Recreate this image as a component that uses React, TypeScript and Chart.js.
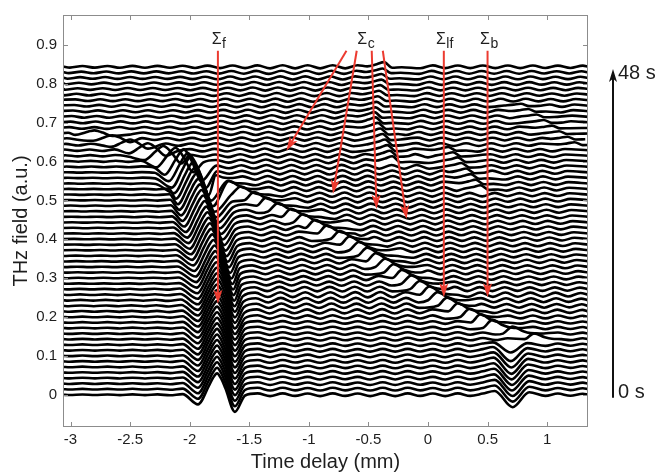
import React, { useEffect, useRef } from "react";
import { Chart, registerables } from "chart.js";

Chart.register(...registerables);

// ---------- axes ----------
const xTicks = [-3, -2.5, -2, -1.5, -1, -0.5, 0, 0.5, 1];
const yTicks = [0, 0.1, 0.2, 0.3, 0.4, 0.5, 0.6, 0.7, 0.8, 0.9];
const xRange = [-3.063, 1.343];
const yRange = [-0.083, 0.977];

// ---------- traces (one per second) ----------
const TRACE_COUNT = 60;
const TRACE_STEP = 0.0143;

// sample positions of the background ripple (extrema), mm
const gridX = [
  -3.063, -3.005, -2.9, -2.795, -2.69, -2.585, -2.48, -2.375, -2.27, -2.165, -2.06,
  -1.955, -1.85, -1.745, -1.64, -1.535, -1.43, -1.325, -1.22, -1.115, -1.01,
  -0.905, -0.8, -0.695, -0.59, -0.485, -0.38, -0.275, -0.17, -0.065, 0.04,
  0.145, 0.25, 0.355, 0.46, 0.565, 0.67, 0.775, 0.88, 0.985, 1.09, 1.195, 1.3, 1.343,
];
// ripple of the lowest traces
const rippleLow = [
  0, -0.0008, 0.0008, -0.0008, 0.0008, -0.001, 0.001, -0.001, 0.001, -0.0015, 0.0015,
  -0.0015, 0.0015, -0.0015, 0.002, -0.002, 0.0035, -0.0035, 0.0035, -0.003, 0.003,
  -0.0035, 0.0035, -0.003, 0.003, -0.0035, 0.0035, -0.0035, 0.0035, -0.003, 0.003,
  -0.0035, 0.0035, -0.003, 0.003, -0.0025, 0.0025, -0.003, 0.003, -0.003, 0.003, -0.0025, 0.0025, 0,
];
// ripple of the middle traces
const rippleMid = [
  0, -0.0005, 0.0005, -0.0005, 0.0005, -0.0006, 0.0006, -0.0008, 0.0008, -0.001, 0.0012,
  -0.0015, 0.002, -0.0025, 0.003, -0.0035, 0.004, -0.0045, 0.005, -0.005, 0.005,
  -0.005, 0.005, -0.0055, 0.0055, -0.0055, 0.0055, -0.005, 0.005, -0.005, 0.005,
  -0.005, 0.005, -0.0045, 0.0045, -0.0045, 0.0045, -0.004, 0.004, -0.004, 0.004, -0.0035, 0.0035, 0,
];
// ripple of the upper traces
const rippleHigh = [
  0.001, -0.002, 0.002, -0.0022, 0.0022, -0.0025, 0.0025, -0.0025, 0.0025, -0.0025, 0.0028,
  -0.003, 0.003, -0.0033, 0.0035, -0.0035, 0.0038, -0.004, 0.004, -0.004, 0.004,
  -0.004, 0.004, -0.004, 0.004, -0.004, 0.004, -0.0038, 0.0038, -0.0038, 0.0038,
  -0.0035, 0.0035, -0.0035, 0.0035, -0.0035, 0.0035, -0.0035, 0.0035, -0.003, 0.003, -0.003, 0.003, 0,
];
const gainLow = [
  1, 1, 1, 1, 1, 1, 1, 1, 1, 1, 1, 1, 1, 1, 1, 1, 0.8, 0.6, 0.4, 0.2,
  0, 0, 0, 0, 0, 0, 0, 0, 0, 0, 0, 0, 0, 0, 0, 0, 0, 0, 0, 0,
  0, 0, 0, 0, 0, 0, 0, 0, 0, 0, 0, 0, 0, 0, 0, 0, 0, 0, 0, 0,
];
const gainMid = [
  0, 0, 0, 0, 0, 0, 0, 0, 0, 0, 0, 0, 0, 0, 0.2, 0.4, 0.6, 0.8, 1, 1,
  1, 1, 1, 1, 1, 1, 1, 1, 1, 1, 1, 1, 1, 1, 1, 1, 1, 1, 1, 1,
  1, 0.8, 0.6, 0.4, 0.2, 0, 0, 0, 0, 0, 0, 0, 0, 0, 0, 0, 0, 0, 0, 0,
];
const gainHigh = [
  0, 0, 0, 0, 0, 0, 0, 0, 0, 0, 0, 0, 0, 0, 0, 0, 0, 0, 0, 0,
  0, 0, 0, 0, 0, 0, 0, 0, 0, 0, 0, 0, 0, 0, 0, 0, 0, 0, 0, 0,
  0, 0.2, 0.4, 0.6, 0.8, 1, 1, 1, 1, 1, 1, 1, 1, 1, 1, 1, 1, 1, 1, 1,
];
// drift of the ripple crests from trace to trace, mm
const ripplePhase = [
  0, 0, 0, 0, 0, 0, 0, 0, 0, 0, 0, 0, 0, 0, 0,
  -0.005, -0.01, -0.015, -0.02, -0.025, -0.03, -0.035, -0.04, -0.045, -0.05,
  -0.055, -0.06, -0.065, -0.07, -0.075, -0.08, -0.085, -0.09, -0.095, -0.1,
  -0.105, -0.11, -0.115, -0.12, -0.125, -0.13, -0.135, -0.14, -0.145, -0.15,
  -0.14, -0.13, -0.12, -0.11, -0.1, -0.09, -0.08, -0.07, -0.06, -0.05, -0.04, -0.03, -0.02, -0.01, 0,
];

// Σf : forward pulse (traces 0..47)
const fFirst = 0;
const fX = [
  -1.77, -1.77, -1.77, -1.77, -1.77, -1.77, -1.77, -1.77, -1.77, -1.77,
  -1.77, -1.77, -1.77, -1.77, -1.77, -1.77, -1.77, -1.77, -1.77,
  -1.772, -1.775, -1.78, -1.785, -1.79, -1.8, -1.81, -1.82, -1.83, -1.84, -1.85,
  -1.86, -1.873, -1.886, -1.9, -1.913, -1.927, -1.94, -1.955, -1.97, -1.99,
  -2.015, -2.05, -2.12, -2.22, -2.35, -2.5, -2.65, -2.8,
];
const fAmp = [
  0.055, 0.055, 0.055, 0.055, 0.055, 0.055, 0.055, 0.055, 0.055, 0.055,
  0.055, 0.055, 0.055, 0.055, 0.055, 0.055, 0.055, 0.055, 0.055,
  0.055, 0.055, 0.055, 0.055, 0.055, 0.055, 0.055, 0.055, 0.055, 0.055, 0.055,
  0.055, 0.055, 0.055, 0.055, 0.055, 0.055, 0.055, 0.055, 0.055, 0.055,
  0.05, 0.045, 0.035, 0.025, 0.018, 0.013, 0.01, 0.008,
];
const fDx = [-0.16, -0.07, -0.035, 0, 0.035, 0.07, 0.15];
const fDy = [-0.45, 0.4, 0.78, 1, 0.75, 0.3, -0.8];

// Σb : back reflection (traces 0..9)
const bFirst = 0;
const bX = [0.71, 0.71, 0.71, 0.705, 0.705, 0.7, 0.7, 0.7, 0.695, 0.695];
const bAmp = [0.032, 0.032, 0.032, 0.032, 0.032, 0.032, 0.032, 0.03, 0.028, 0.02];
const bDx = [-0.15, 0, 0.14];
const bDy = [0.3, -1, 0.2];

// Σlf : long diagonal streak (traces 9..39), ramp-shaped feature
const lfFirst = 9;
const lfX = [
  1.2, 0.98, 0.8, 0.63, 0.53, 0.44, 0.34, 0.25, 0.17, 0.1, 0.02, -0.05, -0.13, -0.2,
  -0.27, -0.35, -0.42, -0.49, -0.57, -0.65, -0.76, -0.86, -0.96, -1.06, -1.17, -1.27,
  -1.37, -1.48, -1.58, -1.68, -1.78,
];
const lfAmp = [
  0, 0.005, 0.006, 0.007, 0.007, 0.007, 0.007, 0.007, 0.007, 0.007, 0.007, 0.007, 0.007, 0.007,
  0.007, 0.007, 0.007, 0.007, 0.007, 0.007, 0.007, 0.007, 0.007, 0.007, 0.007, 0.007,
  0.007, 0.007, 0.007, 0.007, 0.007,
];
const rampDx = [-0.17, -0.09, 0, 0.06, 0.14];
const rampDy = [0, 3.0, 1, 0.2, 0];

// bump used by the weaker streaks
const sDx = [-0.14, -0.06, 0, 0.07, 0.15];
const sDy = [0.1, 0.55, 1, -0.2, -0.1];

// Σc : steep streak (traces 42..59)
const cFirst = 42;
const cX = [
  -0.3, -0.32, -0.34, -0.36, -0.38, -0.4, -0.42, -0.44, -0.45, -0.44, -0.43, -0.42,
  -0.41, -0.4, -0.39, -0.39, -0.38, -0.37,
];
const cAmp = [
  0.013, 0.013, 0.013, 0.013, 0.013, 0.013, 0.013, 0.013, 0.012, 0.01, 0.01, 0.01,
  0.01, 0.01, 0.01, 0.01, 0.01, 0.012,
];

// upper-middle streak (traces 37..44)
const dFirst = 37;
const dX = [0.44, 0.4, 0.36, 0.32, 0.28, 0.25, 0.21, 0.17];
const dAmp = [0.01, 0.01, 0.01, 0.01, 0.01, 0.01, 0.009, 0.008];

// upper-right streak (traces 45..52)
const eFirst = 45;
const eX = [1.23, 1.17, 1.1, 1.04, 0.97, 0.91, 0.84, 0.78];
const eAmp = [0.006, 0.006, 0.006, 0.006, 0.006, 0.006, 0.006, 0.005];

// ---------- annotations ----------
const arrowX0 = [-1.763, -0.684, -0.598, -0.472, -0.379, 0.133, 0.5];
const arrowY0 = [0.885, 0.885, 0.885, 0.885, 0.885, 0.885, 0.885];
const arrowX1 = [-1.763, -1.188, -0.797, -0.432, -0.18, 0.133, 0.5];
const arrowY1 = [0.234, 0.628, 0.517, 0.478, 0.452, 0.251, 0.251];
const labelSub = ["f", "c", "lf", "b"];
const labelX = [-1.774, -0.552, 0.108, 0.478];
const labelY = 0.903;
const timeLabels = ["0 s", "48 s"];

type Pt = { x: number; y: number };
type Feature = { center: number; amp: number; dx: number[]; dy: number[] };

function featuresFor(i: number): Feature[] {
  const list: Feature[] = [];
  const add = (first: number, xs: number[], amps: number[], dx: number[], dy: number[]) => {
    const k = i - first;
    if (k >= 0 && k < xs.length && amps[k] > 0) list.push({ center: xs[k], amp: amps[k], dx, dy });
  };
  add(fFirst, fX, fAmp, fDx, fDy);
  add(bFirst, bX, bAmp, bDx, bDy);
  add(lfFirst, lfX, lfAmp, rampDx, rampDy);
  add(cFirst, cX, cAmp, sDx, sDy);
  add(dFirst, dX, dAmp, sDx, sDy);
  add(eFirst, eX, eAmp, sDx, sDy);
  return list;
}

function traceData(i: number): Pt[] {
  const level = i * TRACE_STEP;
  const pts: Pt[] = [];
  const spans: number[][] = [];
  for (const f of featuresFor(i)) {
    const lo = f.center + f.dx[0];
    const hi = f.center + f.dx[f.dx.length - 1];
    for (let j = 0; j < f.dx.length; j++) {
      const px = f.center + f.dx[j];
      if (spans.some((w) => px > w[0] - 0.06 && px < w[1] + 0.06)) continue;
      pts.push({ x: px, y: level + f.amp * f.dy[j] });
    }
    spans.push([lo, hi]);
  }
  const core = pts.map((p) => p.x);
  for (let j = 0; j < gridX.length; j++) {
    const interior = j > 0 && j < gridX.length - 1;
    const gx = gridX[j] + (interior ? ripplePhase[i] : 0);
    if (spans.some((w) => gx >= w[0] && gx <= w[1])) continue;
    if (core.some((c) => Math.abs(c - gx) < 0.06)) continue;
    pts.push({
      x: gx,
      y: level + rippleLow[j] * gainLow[i] + rippleMid[j] * gainMid[i] + rippleHigh[j] * gainHigh[i],
    });
  }
  pts.sort((a, b) => a.x - b.x);
  return pts;
}

const RED = "#ec3b30";
const TEXT = "#1e1e1e";
const FONT = "'Liberation Sans', Arial, Helvetica, sans-serif";

function drawArrow(
  ctx: CanvasRenderingContext2D,
  x0: number, y0: number, x1: number, y1: number,
  headLen: number, headW: number, color: string, lw: number
) {
  const a = Math.atan2(y1 - y0, x1 - x0);
  const c = Math.cos(a), s = Math.sin(a);
  const bx = x1 - headLen * c, by = y1 - headLen * s;
  ctx.strokeStyle = color;
  ctx.lineWidth = lw;
  ctx.beginPath();
  ctx.moveTo(x0, y0);
  ctx.lineTo(x1 - headLen * 0.6 * c, y1 - headLen * 0.6 * s);
  ctx.stroke();
  ctx.fillStyle = color;
  ctx.beginPath();
  ctx.moveTo(x1, y1);
  ctx.lineTo(bx - (headW / 2) * s, by + (headW / 2) * c);
  ctx.lineTo(x1 - headLen * 0.75 * c, y1 - headLen * 0.75 * s);
  ctx.lineTo(bx + (headW / 2) * s, by - (headW / 2) * c);
  ctx.closePath();
  ctx.fill();
}

const overlayPlugin = {
  id: "overlay",
  afterDraw(chart: any) {
    const { ctx, chartArea: ca } = chart;
    const xs = chart.scales.x;
    const ys = chart.scales.y;
    ctx.save();
    ctx.strokeStyle = "#8c8c8c";
    ctx.lineWidth = 1;
    ctx.strokeRect(ca.left + 0.5, ca.top + 0.5, ca.right - ca.left - 1, ca.bottom - ca.top - 1);
    ctx.beginPath();
    for (const v of xTicks) {
      const px = Math.round(xs.getPixelForValue(v)) + 0.5;
      ctx.moveTo(px, ca.bottom);
      ctx.lineTo(px, ca.bottom - 5);
      ctx.moveTo(px, ca.top);
      ctx.lineTo(px, ca.top + 5);
    }
    for (const v of yTicks) {
      const py = Math.round(ys.getPixelForValue(v)) + 0.5;
      ctx.moveTo(ca.left, py);
      ctx.lineTo(ca.left + 5, py);
      ctx.moveTo(ca.right, py);
      ctx.lineTo(ca.right - 5, py);
    }
    ctx.stroke();

    for (let k = 0; k < arrowX0.length; k++) {
      drawArrow(
        ctx,
        xs.getPixelForValue(arrowX0[k]), ys.getPixelForValue(arrowY0[k]),
        xs.getPixelForValue(arrowX1[k]), ys.getPixelForValue(arrowY1[k]),
        14, 9, RED, 2
      );
    }
    ctx.fillStyle = TEXT;
    ctx.textBaseline = "alphabetic";
    for (let k = 0; k < labelSub.length; k++) {
      const px = xs.getPixelForValue(labelX[k]);
      const py = ys.getPixelForValue(labelY);
      ctx.font = `16px ${FONT}`;
      ctx.textAlign = "center";
      ctx.fillText("\u03A3", px, py);
      const w = ctx.measureText("\u03A3").width;
      ctx.font = `14px ${FONT}`;
      ctx.textAlign = "left";
      ctx.fillText(labelSub[k], px + w / 2 + 0.5, py + 4);
    }
    const ax = ca.right + 25;
    drawArrow(ctx, ax, ys.getPixelForValue(-0.008), ax, ys.getPixelForValue(0.838), 13, 8, "#111", 2);
    ctx.fillStyle = TEXT;
    ctx.font = `20px ${FONT}`;
    ctx.textAlign = "left";
    ctx.fillText(timeLabels[0], ax + 5, ys.getPixelForValue(-0.009));
    ctx.fillText(timeLabels[1], ax + 5, ys.getPixelForValue(0.813));
    ctx.restore();
  },
};

export default function App() {
  const ref = useRef<HTMLCanvasElement | null>(null);
  useEffect(() => {
    if (!ref.current) return;
    const datasets = [];
    for (let i = 0; i < TRACE_COUNT; i++) {
      datasets.push({
        label: `${i} s`,
        data: traceData(i),
        borderColor: "#000",
        borderWidth: 2.6,
        pointRadius: 0,
        fill: false,
        cubicInterpolationMode: "monotone" as const,
      });
    }
    const chart = new Chart(ref.current, {
      type: "line",
      data: { datasets },
      options: {
        animation: false,
        responsive: false,
        devicePixelRatio: 1,
        events: [],
        layout: { padding: { left: 0, right: 67, top: 13, bottom: 0 } },
        plugins: { legend: { display: false }, tooltip: { enabled: false } },
        scales: {
          x: {
            type: "linear",
            min: xRange[0],
            max: xRange[1],
            afterBuildTicks: (s: any) => {
              s.ticks = xTicks.map((v) => ({ value: v }));
            },
            afterFit: (s: any) => {
              s.height = 47;
            },
            grid: { display: false, drawTicks: false },
            border: { display: false },
            ticks: {
              padding: 4,
              color: TEXT,
              font: { size: 15, family: FONT },
              callback: (v: any) => String(v),
            },
            title: {
              display: true,
              text: "Time delay (mm)",
              color: TEXT,
              font: { size: 20, family: FONT },
              padding: { top: 0, bottom: 0 },
            },
          },
          y: {
            type: "linear",
            min: yRange[0],
            max: yRange[1],
            afterBuildTicks: (s: any) => {
              s.ticks = yTicks.map((v) => ({ value: v }));
            },
            afterFit: (s: any) => {
              s.width = 63;
            },
            grid: { display: false, drawTicks: false },
            border: { display: false },
            ticks: {
              padding: 6,
              color: TEXT,
              font: { size: 15, family: FONT },
              callback: (v: any) => String(v),
            },
            title: {
              display: true,
              text: "THz field (a.u.)",
              color: TEXT,
              font: { size: 20, family: FONT },
              padding: { top: 9, bottom: 0 },
            },
          },
        },
      },
      plugins: [overlayPlugin],
    });
    return () => chart.destroy();
  }, []);
  return (
    <div style={{ position: "absolute", left: 0, top: 0, width: 655, height: 474, background: "#fff" }}>
      <canvas ref={ref} width={655} height={474} style={{ width: 655, height: 474, display: "block" }} />
    </div>
  );
}
